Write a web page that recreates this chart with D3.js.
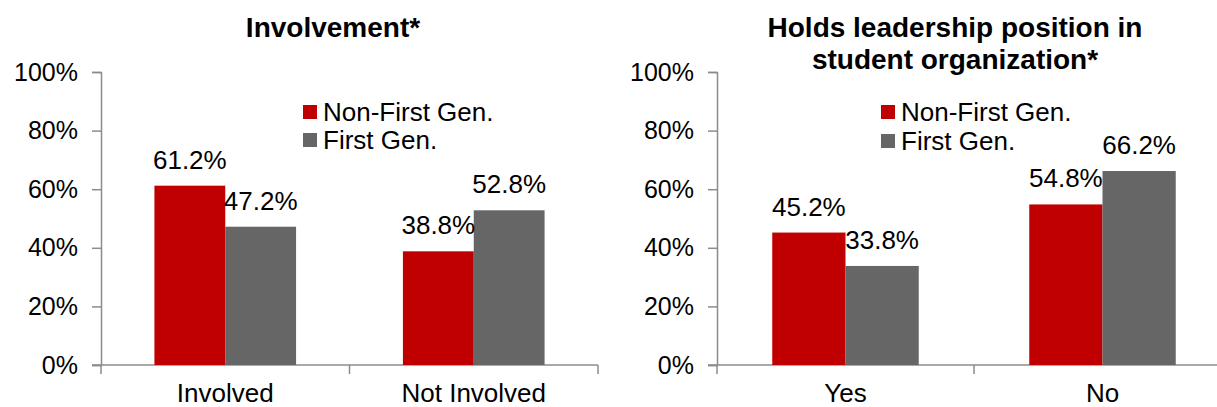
<!DOCTYPE html>
<html><head><meta charset="utf-8">
<script src="https://cdn.jsdelivr.net/npm/d3@7"></script>
<style>
html,body{margin:0;padding:0;background:#fff;}
svg{display:block;font-family:"Liberation Sans",Arial,sans-serif;}
</style></head>
<body>
<svg id="chart" width="1217" height="407"></svg>
<script>
const seriesNames = ["Non-First Gen.", "First Gen."];
const seriesColors = ["#C00000", "#666666"];
const yTicks = [0, 20, 40, 60, 80, 100];

const titleA = ["Involvement*"];
const categoriesA = ["Involved", "Not Involved"];
const nonFirstA = [61.2, 38.8];
const firstA = [47.2, 52.8];

const titleB = ["Holds leadership position in", "student organization*"];
const categoriesB = ["Yes", "No"];
const nonFirstB = [45.2, 54.8];
const firstB = [33.8, 66.2];

const svg = d3.select("#chart");

function panel(cfg) {
  const g = svg.append("g");
  const y = d3.scaleLinear().domain([0, 100]).range([365, 72]);
  const x = d3.scaleBand().domain(cfg.cats).range([cfg.x0, cfg.x1])
    .paddingInner(0.43).paddingOuter(0.215);
  const xs = d3.scaleBand().domain(seriesNames).range([0, x.bandwidth()]);
  const step = x.step();

  // y axis
  const ya = g.append("g").attr("transform", `translate(${cfg.x0},0)`)
    .call(d3.axisLeft(y).tickValues(yTicks).tickFormat(d => d + "%").tickSize(9).tickPadding(14));
  ya.select(".domain").attr("stroke", "#8c8c8c").attr("stroke-width", 1.5);
  ya.selectAll(".tick line").attr("stroke", "#8c8c8c").attr("stroke-width", 1.5);
  ya.selectAll(".tick text").attr("font-size", 25).attr("fill", "#000")
    .attr("font-family", "Liberation Sans, Arial, sans-serif");

  // x axis baseline + boundary ticks
  g.append("line").attr("x1", cfg.x0 - 9).attr("x2", cfg.x1).attr("y1", y(0)).attr("y2", y(0))
    .attr("stroke", "#8c8c8c").attr("stroke-width", 1.5);
  g.selectAll(".bt").data(d3.range(cfg.cats.length + 1)).join("line")
    .attr("x1", i => cfg.x0 + i * step).attr("x2", i => cfg.x0 + i * step)
    .attr("y1", y(0)).attr("y2", y(0) + 9)
    .attr("stroke", "#8c8c8c").attr("stroke-width", 1.5);

  const rows = [];
  cfg.cats.forEach((c, i) => {
    rows.push({cat: c, s: seriesNames[0], v: cfg.a[i], col: seriesColors[0]});
    rows.push({cat: c, s: seriesNames[1], v: cfg.b[i], col: seriesColors[1]});
  });

  g.selectAll(".bar").data(rows).join("rect")
    .attr("x", d => x(d.cat) + xs(d.s))
    .attr("width", xs.bandwidth())
    .attr("y", d => y(d.v))
    .attr("height", d => y(0) - y(d.v))
    .attr("fill", d => d.col);

  g.selectAll(".lbl").data(rows).join("text")
    .attr("x", d => x(d.cat) + xs(d.s) + xs.bandwidth() / 2)
    .attr("y", d => y(d.v) - 17)
    .attr("text-anchor", "middle").attr("font-size", 26).attr("fill", "#000")
    .text(d => d.v.toFixed(1) + "%");

  g.selectAll(".cat").data(cfg.cats).join("text")
    .attr("x", d => x(d) + x.bandwidth() / 2)
    .attr("y", 402)
    .attr("text-anchor", "middle").attr("font-size", 26).attr("fill", "#000")
    .text(d => d);

  g.selectAll(".ttl").data(cfg.title).join("text")
    .attr("x", cfg.tx).attr("y", (d, i) => 37 + i * 32)
    .attr("text-anchor", "middle").attr("font-size", 28).attr("font-weight", "bold")
    .attr("fill", "#000").text(d => d);

  const lg = g.append("g").attr("transform", `translate(${cfg.lx},${cfg.ly})`);
  seriesNames.forEach((s, i) => {
    lg.append("rect").attr("x", 0).attr("y", i * cfg.lstep - 7).attr("width", 14).attr("height", 14)
      .attr("fill", seriesColors[i]);
    lg.append("text").attr("x", 20).attr("y", i * cfg.lstep + 9)
      .attr("font-size", 26).attr("fill", "#000").text(s);
  });
}

panel({cats: categoriesA, a: nonFirstA, b: firstA, title: titleA,
  x0: 101, x1: 598, tx: 333, lx: 303, ly: 112, lstep: 28});
panel({cats: categoriesB, a: nonFirstB, b: firstB, title: titleB,
  x0: 717, x1: 1231, tx: 955, lx: 881, ly: 112, lstep: 29});
</script>
</body></html>
